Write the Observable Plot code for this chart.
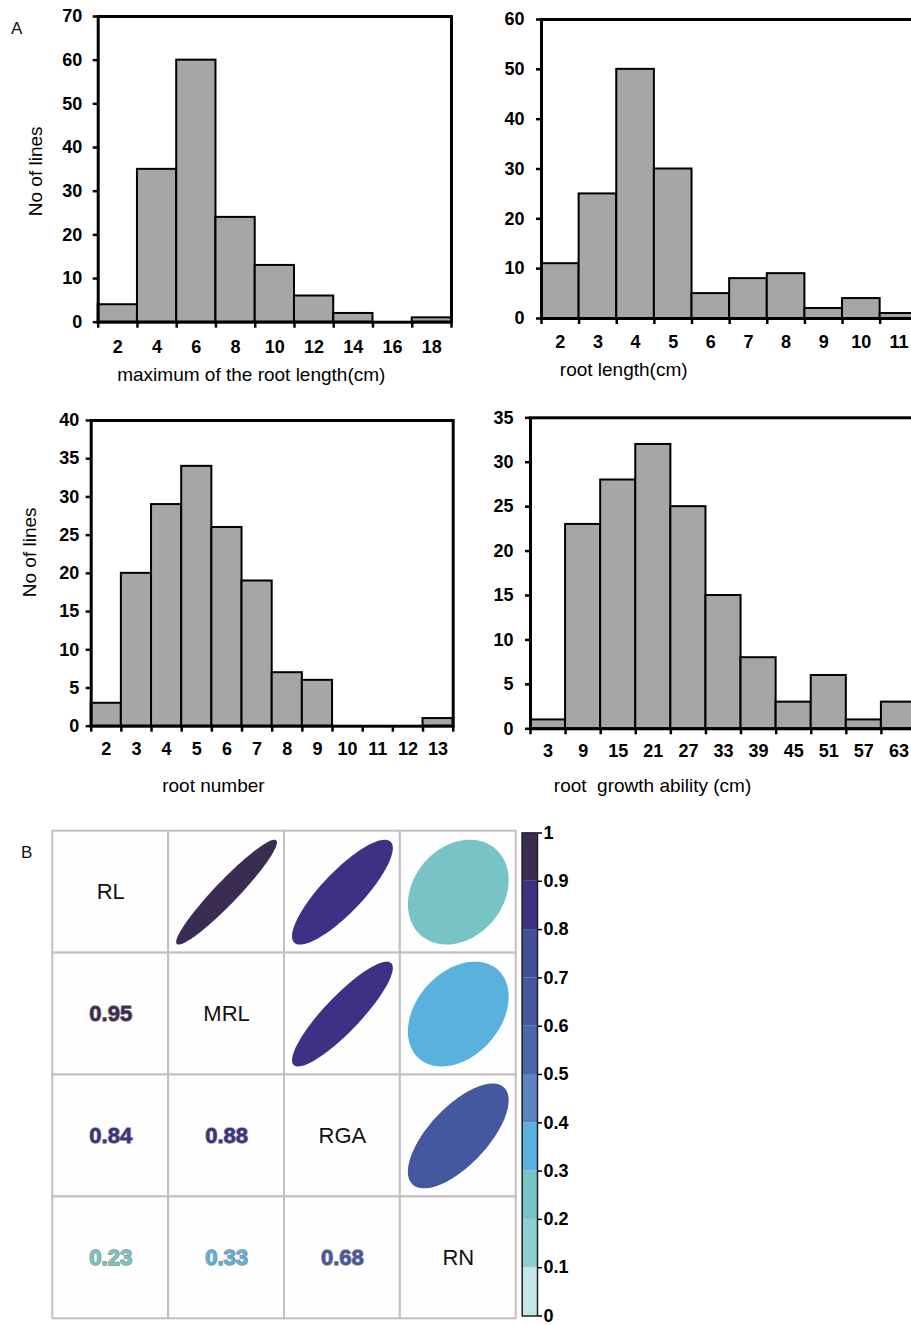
<!DOCTYPE html>
<html><head><meta charset="utf-8">
<script src="https://cdn.jsdelivr.net/npm/d3@7"></script>
<script src="https://cdn.jsdelivr.net/npm/@observablehq/plot@0.6"></script>
<style>
html,body{margin:0;padding:0;background:#fff;}
#root{position:relative;width:911px;height:1325px;overflow:hidden;font-family:"Liberation Sans",Arial,sans-serif;color:#000;}
#root svg{position:absolute;}
svg text{white-space:pre;}
.lab{position:absolute;font-size:17px;color:#111;line-height:1;}
</style></head><body>
<div id="root">
  <div class="lab" style="left:11px;top:20px">A</div>
  <div class="lab" style="left:21px;top:844px">B</div>
</div>
<script>
// ---- Data: histograms (panel A) ----
const mrlLabels = [2, 4, 6, 8, 10, 12, 14, 16, 18];
const mrlCounts = [4, 35, 60, 24, 13, 6, 2, 0, 1];
const rlLabels = [2, 3, 4, 5, 6, 7, 8, 9, 10, 11];
const rlCounts = [11, 25, 50, 30, 5, 8, 9, 2, 4, 1];
const rnLabels = [2, 3, 4, 5, 6, 7, 8, 9, 10, 11, 12, 13];
const rnCounts = [3, 20, 29, 34, 26, 19, 7, 6, 0, 0, 0, 1];
const rgaLabels = [3, 9, 15, 21, 27, 33, 39, 45, 51, 57, 63];
const rgaCounts = [1, 23, 28, 32, 25, 15, 8, 3, 6, 1, 3];
const mrlYTicks = [0, 10, 20, 30, 40, 50, 60, 70];
const rlYTicks = [0, 10, 20, 30, 40, 50, 60];
const rnYTicks = [0, 5, 10, 15, 20, 25, 30, 35, 40];
const rgaYTicks = [0, 5, 10, 15, 20, 25, 30, 35];

// ---- Data: correlation matrix (panel B) ----
const traits = ["RL", "MRL", "RGA", "RN"];
const corrA = ["RL", "RL", "RL", "MRL", "MRL", "RGA"];
const corrB = ["MRL", "RGA", "RN", "RGA", "RN", "RN"];
const corrR = [0.95, 0.84, 0.23, 0.88, 0.33, 0.68];
const colorBreaks = [0.1, 0.2, 0.3, 0.4, 0.5, 0.6, 0.7, 0.8, 0.9];
const colorRange = ["#c6e7e9", "#8ecfd1", "#78c3c6", "#59b2dd", "#5a84c1", "#4c68ad", "#45579f", "#424f98", "#3c3185", "#3b2d52"];
const colorbarTicks = [0, 0.1, 0.2, 0.3, 0.4, 0.5, 0.6, 0.7, 0.8, 0.9, 1];

const root = document.getElementById("root");
const FONT = '"Liberation Sans", Arial, sans-serif';
function place(svg, left, top) {
  svg.style.position = "absolute";
  svg.style.left = left + "px";
  svg.style.top = top + "px";
  root.appendChild(svg);
}

function hist(o) {
  const n = o.labels.length;
  const bins = o.labels.map((l, i) => ({i, label: l, count: o.counts[i]}));
  const edges = d3.range(n + 1);
  const centers = d3.range(n).map(i => i + 0.5);
  const marks = [
    Plot.rect(bins, {x1: "i", x2: d => d.i + 1, y1: 0, y2: "count", fill: "#a6a6a6", stroke: "#000", strokeWidth: 2}),
    Plot.frame({stroke: "#000", strokeWidth: 3}),
    Plot.axisY({ticks: o.yTicks, tickSize: 5, tickPadding: o.yPad, strokeWidth: 2.5, fontWeight: "bold", fontSize: 18, label: null}),
    Plot.axisX({ticks: edges, tickSize: 6, tickFormat: () => "", strokeWidth: 2.5, label: null}),
    Plot.axisX({ticks: centers, tickSize: 0, tickPadding: o.xPad, tickFormat: v => String(o.labels[Math.floor(v)]), fontWeight: "bold", fontSize: 18, label: null}),
    Plot.text([o.xTitle], {text: d => d, frameAnchor: "bottom-left", textAnchor: "start", lineAnchor: "middle", dx: o.xtDx, dy: o.xtDy, fontSize: 19})
  ];
  if (o.yTitle) marks.push(Plot.text([o.yTitle], {text: d => d, frameAnchor: "left", textAnchor: "middle", rotate: -90, lineAnchor: "middle", dx: o.ytDx, dy: o.ytDy, fontSize: 19}));
  const svg = Plot.plot({
    width: o.width, height: o.height,
    marginLeft: o.ml, marginRight: o.mr, marginTop: o.mt, marginBottom: o.mb,
    x: {domain: [0, n]},
    y: {domain: [0, o.yTicks[o.yTicks.length - 1]]},
    style: {fontFamily: FONT, background: "transparent", overflow: "visible", maxWidth: "none", color: "#000"},
    marks
  });
  place(svg, o.left, o.top);
}

hist({labels: mrlLabels, counts: mrlCounts, yTicks: mrlYTicks, left: 0, top: 0, width: 460, height: 400,
  ml: 97.7, mr: 9, mt: 16, mb: 78.3, yPad: 11, xPad: 17.6,
  xTitle: "maximum of the root length(cm)", xtDx: 19, xtDy: 52.3,
  yTitle: "No of lines", ytDx: -62.5, ytDy: 2});
hist({labels: rlLabels, counts: rlCounts, yTicks: rlYTicks, left: 460, top: 0, width: 461, height: 400,
  ml: 81, mr: 3.7, mt: 19, mb: 82, yPad: 12, xPad: 17,
  xTitle: "root length(cm)", xtDx: 18.3, xtDy: 51});
hist({labels: rnLabels, counts: rnCounts, yTicks: rnYTicks, left: 0, top: 400, width: 460, height: 410,
  ml: 90.7, mr: 7.3, mt: 20, mb: 84.3, yPad: 7, xPad: 16,
  xTitle: "root number", xtDx: 71, xtDy: 60,
  yTitle: "No of lines", ytDx: -61, ytDy: -21});
hist({labels: rgaLabels, counts: rgaCounts, yTicks: rgaYTicks, left: 460, top: 400, width: 459, height: 410,
  ml: 70, mr: 3, mt: 17.3, mb: 81.7, yPad: 12, xPad: 15.2,
  xTitle: "root  growth ability (cm)", xtDx: 23.3, xtDy: 56.7});

// ---- Correlation matrix ----
const idx = t => traits.indexOf(t);
const corr = corrR.map((r, k) => ({a: corrA[k], b: corrB[k], r}));
const cells = traits.flatMap((_, i) => traits.map((_, j) => ({i, j})));
const ex = 0.87, ey = 0.86;
const ellipsePts = corr.flatMap(d => {
  const h = Math.acos(d.r) / 2;
  return d3.range(0, 121).map(k => {
    const t = 2 * Math.PI * k / 120;
    return {pair: d.a + "-" + d.b, r: d.r,
      x: idx(d.b) + 0.5 + ex * Math.cos(t + h) / 2,
      y: idx(d.a) + 0.5 - ey * Math.cos(t - h) / 2};
  });
});
const colorScale = {type: "threshold", domain: colorBreaks, range: colorRange};

const matrix = Plot.plot({
  width: 480, height: 505,
  marginLeft: 10.3, marginRight: 6.3, marginTop: 8.7, marginBottom: 8.7,
  x: {domain: [0, 4], axis: null},
  y: {domain: [0, 4], reverse: true, axis: null},
  color: colorScale,
  style: {fontFamily: FONT, background: "transparent", overflow: "visible", maxWidth: "none", color: "#000"},
  marks: [
    Plot.rect(cells, {x1: "j", x2: d => d.j + 1, y1: "i", y2: d => d.i + 1, fill: "#fefefe", stroke: "#c4bfbf", strokeWidth: 2}),
    Plot.line(ellipsePts, {x: "x", y: "y", z: "pair", fill: "r", stroke: "none"}),
    Plot.text(traits, {x: (d, i) => i + 0.5, y: (d, i) => i + 0.5, text: d => d, fontSize: 22, fill: "#111"}),
    Plot.text(corr, {x: d => idx(d.a) + 0.5, y: d => idx(d.b) + 0.5, text: d => d.r.toFixed(2), fill: "r", stroke: "#8c8c8c", strokeWidth: 1.3, fontWeight: "bold", fontSize: 22})
  ]
});
place(matrix, 42, 822);

// ---- Colour bar ----
const cbBins = colorbarTicks.slice(0, -1).map((lo, k) => ({lo, hi: colorbarTicks[k + 1], mid: (lo + colorbarTicks[k + 1]) / 2}));
const colorbar = Plot.plot({
  width: 90, height: 510,
  marginLeft: 21.7, marginRight: 53, marginTop: 17.5, marginBottom: 9.5,
  y: {domain: [0, 1]},
  color: colorScale,
  style: {fontFamily: FONT, background: "transparent", overflow: "visible", maxWidth: "none", color: "#000"},
  marks: [
    Plot.rect(cbBins, {y1: "lo", y2: "hi", fill: "mid"}),
    Plot.frame({stroke: "#222", strokeWidth: 1.5}),
    Plot.axisY({anchor: "right", ticks: colorbarTicks, tickFormat: d => String(d), tickSize: 4, tickPadding: 2, strokeWidth: 1.5, fontWeight: "bold", fontSize: 18, label: null})
  ]
});
place(colorbar, 500, 815);
</script>
</body></html>
